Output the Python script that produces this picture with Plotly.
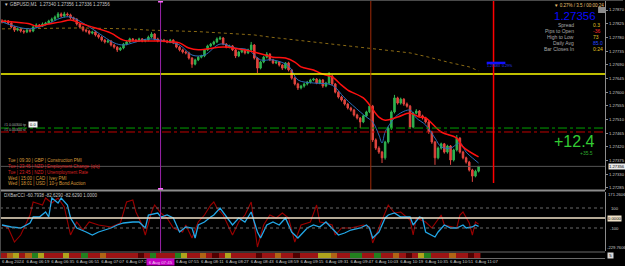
import plotly.graph_objects as go

# ---------------- data ----------------
bar_index = list(range(154))

open_ = [
1.27834,1.27831,1.27834,1.27827,1.27814,1.27804,1.27808,1.27801,1.27798,1.27804,
1.27801,1.27814,1.27821,1.27817,1.27824,1.27827,1.27834,1.27840,1.27847,1.27857,
1.27850,1.27857,1.27854,1.27844,1.27840,1.27824,1.27814,1.27804,1.27801,1.27794,
1.27798,1.27788,1.27781,1.27771,1.27765,1.27768,1.27755,1.27748,1.27739,1.27745,
1.27758,1.27765,1.27775,1.27771,1.27768,1.27775,1.27768,1.27771,1.27781,1.27791,
1.27775,1.27768,1.27771,1.27768,1.27765,1.27771,1.27762,1.27748,1.27739,1.27732,
1.27729,1.27712,1.27692,1.27706,1.27715,1.27719,1.27739,1.27752,1.27758,1.27765,
1.27775,1.27778,1.27758,1.27748,1.27752,1.27739,1.27719,1.27732,1.27739,1.27729,
1.27739,1.27755,1.27712,1.27679,1.27699,1.27715,1.27725,1.27706,1.27696,1.27699,
1.27689,1.27679,1.27696,1.27673,1.27646,1.27627,1.27614,1.27620,1.27627,1.27633,
1.27640,1.27643,1.27630,1.27640,1.27620,1.27630,1.27653,1.27627,1.27600,1.27584,
1.27574,1.27561,1.27548,1.27541,1.27525,1.27515,1.27502,1.27522,1.27535,1.27554,
1.27443,1.27416,1.27403,1.27384,1.27436,1.27482,1.27535,1.27581,1.27564,1.27577,
1.27561,1.27554,1.27485,1.27531,1.27538,1.27522,1.27515,1.27502,1.27469,1.27436,
1.27384,1.27416,1.27430,1.27403,1.27423,1.27377,1.27410,1.27449,1.27403,1.27384,
1.27370,1.27344,1.27324,1.27340]

high = [
1.27840,1.27838,1.27837,1.27830,1.27818,1.27812,1.27811,1.27805,1.27809,1.27807,
1.27818,1.27826,1.27824,1.27829,1.27831,1.27838,1.27845,1.27852,1.27863,1.27862,
1.27864,1.27862,1.27858,1.27848,1.27843,1.27828,1.27818,1.27808,1.27805,1.27802,
1.27802,1.27792,1.27785,1.27775,1.27773,1.27771,1.27759,1.27751,1.27749,1.27762,
1.27769,1.27779,1.27778,1.27775,1.27779,1.27778,1.27775,1.27786,1.27797,1.27794,
1.27779,1.27775,1.27775,1.27772,1.27775,1.27774,1.27765,1.27752,1.27743,1.27736,
1.27733,1.27715,1.27710,1.27719,1.27723,1.27742,1.27756,1.27762,1.27769,1.27780,
1.27784,1.27781,1.27761,1.27756,1.27755,1.27742,1.27736,1.27743,1.27742,1.27743,
1.27765,1.27758,1.27715,1.27703,1.27719,1.27732,1.27728,1.27710,1.27703,1.27702,
1.27692,1.27699,1.27700,1.27676,1.27650,1.27631,1.27624,1.27631,1.27637,1.27644,
1.27647,1.27646,1.27644,1.27643,1.27634,1.27666,1.27656,1.27630,1.27604,1.27588,
1.27578,1.27565,1.27552,1.27545,1.27529,1.27518,1.27526,1.27539,1.27561,1.27558,
1.27448,1.27422,1.27407,1.27440,1.27487,1.27540,1.27591,1.27585,1.27582,1.27580,
1.27566,1.27558,1.27535,1.27544,1.27541,1.27526,1.27519,1.27506,1.27473,1.27440,
1.27421,1.27434,1.27433,1.27427,1.27426,1.27414,1.27459,1.27452,1.27407,1.27388,
1.27374,1.27348,1.27345,1.27356]

low = [
1.27826,1.27827,1.27822,1.27810,1.27798,1.27800,1.27796,1.27792,1.27794,1.27796,
1.27797,1.27811,1.27813,1.27814,1.27820,1.27824,1.27830,1.27836,1.27843,1.27845,
1.27846,1.27849,1.27839,1.27835,1.27819,1.27809,1.27799,1.27796,1.27789,1.27790,
1.27783,1.27776,1.27766,1.27760,1.27761,1.27750,1.27743,1.27732,1.27735,1.27741,
1.27754,1.27761,1.27767,1.27764,1.27765,1.27764,1.27764,1.27767,1.27777,1.27770,
1.27764,1.27764,1.27764,1.27761,1.27761,1.27758,1.27744,1.27734,1.27727,1.27724,
1.27707,1.27680,1.27688,1.27702,1.27711,1.27715,1.27735,1.27748,1.27754,1.27761,
1.27771,1.27754,1.27744,1.27744,1.27735,1.27712,1.27715,1.27728,1.27724,1.27725,
1.27735,1.27707,1.27663,1.27675,1.27695,1.27711,1.27702,1.27692,1.27692,1.27684,
1.27673,1.27675,1.27668,1.27641,1.27622,1.27607,1.27609,1.27615,1.27622,1.27628,
1.27636,1.27626,1.27626,1.27614,1.27616,1.27626,1.27622,1.27596,1.27579,1.27569,
1.27556,1.27543,1.27536,1.27520,1.27510,1.27482,1.27498,1.27518,1.27531,1.27436,
1.27410,1.27397,1.27367,1.27378,1.27431,1.27476,1.27530,1.27559,1.27559,1.27555,
1.27549,1.27479,1.27481,1.27527,1.27517,1.27510,1.27497,1.27463,1.27430,1.27361,
1.27379,1.27411,1.27398,1.27398,1.27361,1.27372,1.27405,1.27398,1.27379,1.27365,
1.27339,1.27305,1.27320,1.27336]

close = [
1.27831,1.27834,1.27827,1.27814,1.27804,1.27808,1.27801,1.27798,1.27804,1.27801,
1.27814,1.27821,1.27817,1.27824,1.27827,1.27834,1.27840,1.27847,1.27857,1.27850,
1.27857,1.27854,1.27844,1.27840,1.27824,1.27814,1.27804,1.27801,1.27794,1.27798,
1.27788,1.27781,1.27771,1.27765,1.27768,1.27755,1.27748,1.27739,1.27745,1.27758,
1.27765,1.27775,1.27771,1.27768,1.27775,1.27768,1.27771,1.27781,1.27791,1.27775,
1.27768,1.27771,1.27768,1.27765,1.27771,1.27762,1.27748,1.27739,1.27732,1.27729,
1.27712,1.27692,1.27706,1.27715,1.27719,1.27739,1.27752,1.27758,1.27765,1.27775,
1.27778,1.27758,1.27748,1.27752,1.27739,1.27719,1.27732,1.27739,1.27729,1.27739,
1.27755,1.27712,1.27679,1.27699,1.27715,1.27725,1.27706,1.27696,1.27699,1.27689,
1.27679,1.27696,1.27673,1.27646,1.27627,1.27614,1.27620,1.27627,1.27633,1.27640,
1.27643,1.27630,1.27640,1.27620,1.27630,1.27653,1.27627,1.27600,1.27584,1.27574,
1.27561,1.27548,1.27541,1.27525,1.27515,1.27502,1.27522,1.27535,1.27554,1.27443,
1.27416,1.27403,1.27384,1.27436,1.27482,1.27535,1.27581,1.27564,1.27577,1.27561,
1.27554,1.27485,1.27531,1.27538,1.27522,1.27515,1.27502,1.27469,1.27436,1.27384,
1.27416,1.27430,1.27403,1.27423,1.27377,1.27410,1.27449,1.27403,1.27384,1.27370,
1.27344,1.27324,1.27340,1.27356]

red_ma_idx = [0,3,9,11,15,19,22,25,28,35,39,44,51,54,57,60,63,71,76,81,
              87,91,94,96,100,102,104,106,109,111,116,118,121,123,127,131,134,136,141,146,148,153]
red_ma = [1.27834,1.27831,1.27824,1.27817,1.27824,1.27831,1.27837,1.27827,1.27817,1.27794,
          1.27771,1.27768,1.27768,1.27765,1.27762,1.27745,1.27739,1.27748,1.27742,1.27732,
          1.27715,1.27712,1.27699,1.27683,1.27673,1.27663,1.27656,1.27650,1.27623,1.27607,
          1.27581,1.27558,1.27518,1.27508,1.27518,1.27531,1.27518,1.27515,1.27469,1.27449,
          1.27420,1.27387]

blue_ma_idx = [0,4,9,14,19,22,27,31,36,39,43,47,52,57,61,65,70,75,79,83,
               87,92,95,100,106,110,115,117,119,121,122,123,125,127,131,133,136,139,141,144,
               147,149,151,153]
blue_ma = [1.27831,1.27817,1.27808,1.27821,1.27844,1.27847,1.27821,1.27794,1.27762,1.27755,
           1.27765,1.27775,1.27768,1.27755,1.27722,1.27722,1.27758,1.27745,1.27739,1.27706,
           1.27706,1.27686,1.27640,1.27630,1.27623,1.27581,1.27535,1.27518,1.27502,1.27459,
           1.27433,1.27469,1.27502,1.27525,1.27541,1.27515,1.27492,1.27449,1.27420,1.27416,
           1.27433,1.27403,1.27384,1.27367]

slow_ma_idx = [0,25,41,47,63,74,81,86,95,106,118,131,137,143,150,153]
slow_ma = [1.27808,1.27811,1.27808,1.27804,1.27799,1.27791,1.27788,1.27781,1.27771,1.27758,
           1.27745,1.27729,1.27715,1.27699,1.27683,1.27670]

cci_fast_idx = [0,3,6,9,10,12,14,15,16,18,19,21,22,24,27,29,31,35,37,39,
                42,44,46,47,50,51,53,55,57,59,61,62,63,65,67,68,70,72,74,76,
                78,80,82,83,85,87,89,91,93,95,98,100,102,104,106,108,110,112,115,117,
                118,119,121,123,124,126,128,131,132,134,135,136,139,140,142,144,146,148,149,151,
                152,153]
cci_fast = [-70,-90,-100,-50,10,10,60,10,200,150,200,130,0,-100,-140,-170,-140,-100,-70,-50,
            -40,-40,-100,30,50,10,30,0,-140,-90,-100,-200,-70,-40,10,30,100,10,-70,0,
            -40,60,-140,-200,-70,-40,-70,0,-140,-200,-100,-70,-90,-40,-100,-170,-150,-120,-100,-70,
            -100,-200,-140,0,30,50,10,10,-70,10,0,-140,-190,-140,-70,-100,-100,-70,-100,-90,
            -70,-83]

cci_slow_idx = [0,2,4,6,9,10,11,13,14,16,18,19,20,22,24,26,28,31,35,38,
                40,42,43,45,46,48,49,51,53,55,58,59,61,63,65,67,68,69,71,74,
                76,78,80,82,84,86,88,90,92,94,96,99,101,102,104,106,107,109,112,116,
                118,119,121,123,124,126,128,131,132,133,136,138,141,142,146,147,148,150,151,152,
                153]
cci_slow = [-70,-100,-240,-170,30,160,150,130,200,150,200,160,110,-170,-40,-120,-40,-70,-90,-50,
            160,180,60,-70,-170,60,130,50,0,-100,-140,-70,-200,-40,30,130,160,100,30,-170,
            -40,30,160,-290,-70,30,0,50,0,-240,-70,-40,130,-40,-50,-70,-170,-100,-100,-70,
            -90,-250,-100,60,130,50,60,-20,-170,0,-40,-100,30,-70,-100,30,60,-50,-170,-40,
            -61]

strip_codes = [1,2,3,1,2,4,3,1,1,1, 3,1,1,4,1,1,2,1,1,1, 1,1,0,1,4,1,1,1,4,3,
               1,1,2,1,0,1,3,1,1,1, 1,0,1,1,2,1,1,0,1,1, 1,3,3,2,1,1,4,4,1,1,
               4,1,1,2,1,0,1,3,4,1, 1,1,2,1,1,0,1]

# the 07:39 label is hidden behind the crosshair time box in the reference
time_tick_idx = [0,8,16,24,32,40,56,64,72,80,88,96,104,112,120,128,136,144,152]
time_tick_labels = ["6 Aug 2024","6 Aug 06:19","6 Aug 06:35","6 Aug 06:51","6 Aug 07:07",
                    "6 Aug 07:23","6 Aug 07:55","6 Aug 08:11","6 Aug 08:27",
                    "6 Aug 08:43","6 Aug 08:59","6 Aug 09:15","6 Aug 09:31","6 Aug 09:47",
                    "6 Aug 10:03","6 Aug 10:19","6 Aug 10:35","6 Aug 10:51","6 Aug 11:07"]
crosshair_time = "6 Aug 07:45"
price_ticks = [1.27870,1.27825,1.27780,1.27735,1.27690,1.27645,1.27600,1.27555,
               1.27510,1.27465,1.27420,1.27375,1.27330,1.27285]

level_yellow = 1.27660
level_green = 1.27482
level_red = 1.27469
last_price = 1.27356
vline_purple = 50.9
vline_brown = 118.4
vline_red = 157.8

events = ["Tue | 09:30 | GBP | Construction PMI",
          "Tue | 23:45 | NZD | Employment Change (q/q)",
          "Tue | 23:45 | NZD | Unemployment Rate",
          "Wed | 15:00 | CAD | Ivey PMI",
          "Wed | 18:01 | USD | 10-y Bond Auction"]
event_colors = ["#d89a3a", "#d82020", "#d82020", "#d89a3a", "#d89a3a"]

info_labels = ["Spread", "Pips to Open", "High to Low", "Daily Avg", "Bar Closes In"]
info_values = ["0.3", "-36", "73", "85.0", "0:24"]
info_colors = ["#e0c020", "#ff2a2a", "#e0c020", "#2848ff", "#e0c020"]

# ---------------- figure ----------------
W, H = 625, 266
XR = 607 / W
FONT = "Liberation Sans, Arial, sans-serif"


def yp(px):
    return 1 - px / H


def xp(px):
    return px / W


fig = go.Figure()
fig.add_trace(go.Candlestick(
    x=bar_index, open=open_, high=high, low=low, close=close,
    increasing=dict(line=dict(color="#2fb350", width=1), fillcolor="#2fb350"),
    decreasing=dict(line=dict(color="#e2453f", width=1), fillcolor="#e2453f"),
    whiskerwidth=0, xaxis="x", yaxis="y", hoverinfo="skip"))
fig.add_trace(go.Scatter(x=slow_ma_idx, y=slow_ma, mode="lines",
                         line=dict(color="#8a6a14", width=1, dash="dot"), xaxis="x", yaxis="y"))
fig.add_trace(go.Scatter(x=blue_ma_idx, y=blue_ma, mode="lines",
                         line=dict(color="#2a6cb8", width=1, shape="spline"), xaxis="x", yaxis="y"))
fig.add_trace(go.Scatter(x=red_ma_idx, y=red_ma, mode="lines",
                         line=dict(color="#ff1010", width=1.5, shape="spline"), xaxis="x", yaxis="y"))

fig.add_trace(go.Scatter(x=cci_slow_idx, y=cci_slow, mode="lines",
                         line=dict(color="#9a0000", width=1.1), xaxis="x2", yaxis="y2"))
fig.add_trace(go.Scatter(x=cci_fast_idx, y=cci_fast, mode="lines",
                         line=dict(color="#22a8e8", width=1.3), xaxis="x2", yaxis="y2"))

fig.add_trace(go.Heatmap(
    z=[strip_codes], x0=0.5, dx=2, y=[0], zmin=-0.5, zmax=4.5, showscale=False,
    colorscale=[[0, "#500000"], [0.2, "#500000"], [0.2, "#9c1414"], [0.4, "#9c1414"],
                [0.4, "#b06414"], [0.6, "#b06414"], [0.6, "#b0a41c"], [0.8, "#b0a41c"],
                [0.8, "#22801e"], [1, "#22801e"]],
    xaxis="x3", yaxis="y3", hoverinfo="skip"))

xr = [-0.64, 193.6]
axis_common = dict(showgrid=False, zeroline=False)
fig.update_layout(
    width=W, height=H, margin=dict(l=0, r=0, t=0, b=0),
    paper_bgcolor="#000000", plot_bgcolor="#000000", showlegend=False,
    font=dict(family=FONT, color="#c8c8c8", size=5),
    xaxis=dict(domain=[0, XR], range=xr, anchor="y", showticklabels=False,
               rangeslider=dict(visible=False), **axis_common),
    yaxis=dict(domain=[yp(190), 1], range=[1.272783, 1.279029], side="right", anchor="x",
               showline=True, linecolor="#8c8c8c", linewidth=1, ticks="outside", ticklen=2,
               tickcolor="#8c8c8c", tickvals=price_ticks, tickformat=".5f",
               tickfont=dict(size=4.2, color="#c8c8c8"), **axis_common),
    xaxis2=dict(domain=[0, XR], range=xr, anchor="y2", showticklabels=False, **axis_common),
    yaxis2=dict(domain=[yp(251), yp(192)], range=[-330, 260], side="right", anchor="x2",
                showline=True, linecolor="#8c8c8c", showticklabels=False, **axis_common),
    xaxis3=dict(domain=[0, XR], range=xr, anchor="y3", tickvals=time_tick_idx,
                ticktext=time_tick_labels, ticks="", tickangle=0, ticklabelshift=11,
                ticklabelstandoff=0, tickfont=dict(size=4.3, color="#c8c8c8"), **axis_common),
    yaxis3=dict(domain=[yp(258), yp(253)], range=[-0.5, 0.5], visible=False),
)

shapes = []
# price levels
for lvl, col, dash, wd in [(level_yellow, "#ffff00", "solid", 1.5),
                           (level_green, "#00a000", "dashdot", 1),
                           (level_red, "#c00000", "dashdot", 1),
                           (last_price, "#555555", "solid", 1)]:
    shapes.append(dict(type="line", xref="x domain", yref="y", x0=0, x1=1, y0=lvl, y1=lvl,
                       line=dict(color=col, width=wd, dash=dash)))
# indicator levels
for lvl, col, dash, wd in [(100, "#6a6a6a", "dot", 1), (-100, "#6a6a6a", "dot", 1),
                           (0, "#f0e2c8", "solid", 1.5)]:
    shapes.append(dict(type="line", xref="x2 domain", yref="y2", x0=0, x1=1, y0=lvl, y1=lvl,
                       line=dict(color=col, width=wd, dash=dash)))
# vertical lines
shapes.append(dict(type="line", xref="x", yref="paper", x0=vline_purple, x1=vline_purple,
                   y0=yp(253), y1=1, line=dict(color="#9a22a8", width=1)))
shapes.append(dict(type="line", xref="x", yref="paper", x0=vline_brown, x1=vline_brown,
                   y0=yp(190), y1=1, line=dict(color="#a02a08", width=1)))
shapes.append(dict(type="line", xref="x", yref="paper", x0=vline_red, x1=vline_red,
                   y0=yp(183), y1=1, line=dict(color="#ff0000", width=1.5)))
# pink markers on purple line
for top, bot in [(0, 2.5), (188, 191)]:
    shapes.append(dict(type="rect", xref="x", yref="paper", x0=vline_purple - 0.8,
                       x1=vline_purple + 0.8, y0=yp(bot), y1=yp(top),
                       fillcolor="#ff66ff", line=dict(width=0)))
# blue marker box near the red line
shapes.append(dict(type="rect", xref="x", yref="y", x0=155.6, x1=161.6, y0=1.27692, y1=1.27700,
                   fillcolor="#1010ff", line=dict(width=0)))
# panel separators / borders
shapes.append(dict(type="line", xref="paper", yref="paper", x0=0, x1=XR, y0=yp(190.5), y1=yp(190.5),
                   line=dict(color="#8c8c8c", width=2)))
shapes.append(dict(type="line", xref="paper", yref="paper", x0=0, x1=XR, y0=yp(252), y1=yp(252),
                   line=dict(color="#6a6a6a", width=1)))
shapes.append(dict(type="line", xref="paper", yref="paper", x0=0, x1=XR, y0=yp(258.5), y1=yp(258.5),
                   line=dict(color="#6a6a6a", width=1)))
shapes.append(dict(type="line", xref="paper", yref="paper", x0=0, x1=1, y0=yp(0.5), y1=yp(0.5),
                   line=dict(color="#4a4a4a", width=1)))
shapes.append(dict(type="line", xref="paper", yref="paper", x0=xp(0.5), x1=xp(0.5), y0=yp(258), y1=1,
                   line=dict(color="#4a4a4a", width=1)))
shapes.append(dict(type="rect", xref="paper", yref="paper", x0=xp(600), x1=xp(607), y0=yp(13), y1=yp(7),
                   fillcolor="#8c8c8c", line=dict(width=0)))
fig.update_layout(shapes=shapes)

ann = []


def text(x, y, s, size=5, color="#c8c8c8", anchor="left", bg=None):
    d = dict(x=xp(x), y=yp(y), xref="paper", yref="paper", text=s, showarrow=False,
             xanchor=anchor, yanchor="middle", font=dict(family=FONT, size=size, color=color),
             borderpad=0)
    if bg:
        d["bgcolor"] = bg
    ann.append(d)


text(3, 4, "▼ GBPUSD,M1  1.27340 1.27356 1.27336 1.27356", 4.6, "#c8c8c8")
text(555, 5.5, "▼ 0.27% / 3.5 / 00:00:24", 4.5, "#e8c070")
text(577, 15.5, "1.27356", 11.5, "#0a0aff", "center")
for k, (lab, val, col) in enumerate(zip(info_labels, info_values, info_colors)):
    yy = [25, 31, 37, 43, 49.5][k]
    text(577, yy, lab, 5, "#a8a8a8", "right")
    text(594, yy, val, 5, col, "left")
text(488, 66, "1.27683  0.29%", 3.6, "#2a3cff")
text(598, 141, "+12.4", 16, "#33cc33", "right")
text(596, 153, "+35.5", 5, "#2eaa2e", "right")
text(3, 125, "#1 0.00300 tp", 3.6, "#b0b0b0")
text(3, 129.5, "#1 0.00300 sl", 3.6, "#b0b0b0")
text(28, 124.5, " 0.0 ", 4, "#000000", "left", bg="#f4f4f4")
for k, (ev, col) in enumerate(zip(events, event_colors)):
    text(7, [160, 166, 172, 178, 183.5][k], ev, 4.5, col)
text(3, 195, "DXBarCCI -60.7938 -82.6290 -82.6290 1.0000", 4.5, "#c8c8c8")
# right-hand labels
text(610, 166, "1.27356", 4.2, "#000000", "left", bg="#e8e8e8")
text(609, 194, "171.2606", 4.2, "#c8c8c8")
text(612, 208, "100", 4.2, "#c8c8c8")
text(609, 218, "0.0000", 4.2, "#000000", "left", bg="#f0e2c8")
text(611, 228, "-100", 4.2, "#c8c8c8")
text(608, 247.5, "-229.7606", 4.2, "#c8c8c8")
text(609, 255, " 5 ", 4.2, "#000000", "left", bg="#d8d8d8")
# crosshair time box on the purple line
ann.append(dict(x=vline_purple, y=yp(261.5), xref="x3", yref="paper", text=" " + crosshair_time + " ",
                showarrow=False, xanchor="center", yanchor="middle", bgcolor="#c400c4",
                font=dict(family=FONT, size=4.4, color="#f0c8f0"), borderpad=0.5))
fig.update_layout(annotations=ann)

fig.write_html("out.html")
